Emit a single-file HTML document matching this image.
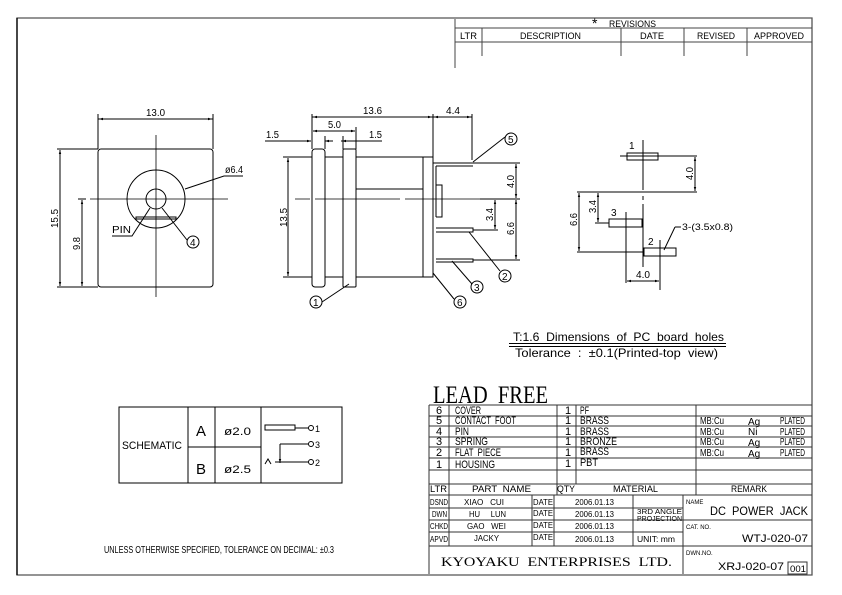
<!DOCTYPE html>
<html><head><meta charset="utf-8"><style>
html,body{margin:0;padding:0;background:#fff}
svg{display:block}
text{font-family:"Liberation Sans",sans-serif;fill:#000;white-space:pre}
</style></head><body>
<svg width="842" height="595" viewBox="0 0 842 595" xmlns="http://www.w3.org/2000/svg" xml:space="preserve">
<defs>
<marker id="a" viewBox="0 0 10 10" refX="10" refY="5" markerWidth="6" markerHeight="4" orient="auto-start-reverse"><path d="M0,2 L10,5 L0,8z" fill="#000"/></marker>
</defs>
<g fill="none" stroke="#000" stroke-width="1">
<path d="M17,18 H812 V575 H17 Z" stroke="#555" stroke-width="1.3"/>
<path d="M17,18 V575" stroke-width="1.3"/>

<path d="M455,19 V68 M455,28 H812 M455,42 H812 M482,28 V56 M621,28 V56 M684,28 V56 M747,28 V56" stroke="#444"/>

<rect x="98" y="149" width="115" height="138" rx="3"/>
<path d="M98,149 V114 M213,149 V114 M98,119 H213" />
<path d="M99,119 H212" marker-start="url(#a)" marker-end="url(#a)"/>
<path d="M156,135 V297" stroke-width="0.8"/>
<path d="M80,199 H86 M90,199 H228" stroke-width="0.8"/>
<circle cx="156" cy="199" r="29"/>
<circle cx="156" cy="199" r="10"/>
<path d="M136,219 V217 H176 V219 Z"/>
<path d="M57,149 H98 M57,287 H98 M78,199 H86"/>
<path d="M60,150 V286" marker-start="url(#a)" marker-end="url(#a)"/>
<path d="M82,200 V286" marker-start="url(#a)" marker-end="url(#a)"/>
<path d="M185,189 L224,176 H243"/>
<path d="M150,208 L132,236 H112"/>
<path d="M162,208 L187,240"/>
<circle cx="193" cy="242" r="6"/>

<path d="M312,114 V149 M433,114 V157 M472,114 V160 M356,127 V149 M312,117 H472"/>
<path d="M313,117 H432" marker-start="url(#a)" marker-end="url(#a)"/>
<path d="M434,117 H471" marker-start="url(#a)" marker-end="url(#a)"/>
<path d="M313,131 H355" marker-start="url(#a)" marker-end="url(#a)"/>
<path d="M265,141 H311" marker-end="url(#a)"/>
<path d="M325,141 L333,141" marker-start="url(#a)"/>
<path d="M341,141 H382" />
<path d="M343,141 L342,141" marker-end="url(#a)"/>
<path d="M325,136 V149 M343,136 V149"/>
<rect x="312" y="149" width="13" height="138" rx="3"/>
<rect x="343" y="149" width="13" height="138" rx="1"/>
<path d="M283,157 H312 M325,157 H343 M356,157 H433 V277 H356 M325,277 H343 M283,277 H312 M423,157 V277 M356,189 H423"/>
<path d="M288,158 V276" marker-start="url(#a)" marker-end="url(#a)"/>
<path d="M295,199 H310 M315,199 H400 M405,199 H517" stroke-width="0.8"/>
<path d="M433,163 H473 M436,166 H473 M436,166 V217 M436,185 H442 V217 H436"/>
<path d="M436,228 H473 V232 H436 M436,259 H473 V262 H436"/>
<path d="M473,163 H520 M480,199 H520 M473,230 H498 M473,260 H520"/>
<path d="M516,164 V198" marker-start="url(#a)" marker-end="url(#a)"/>
<path d="M495,200 V229" marker-start="url(#a)" marker-end="url(#a)"/>
<path d="M516,200 V259" marker-start="url(#a)" marker-end="url(#a)"/>
<path d="M473,162 L505,137"/><circle cx="511" cy="139" r="6"/>
<path d="M469,232 L500,271"/><circle cx="505" cy="276" r="6"/>
<path d="M452,261 L472,284"/><circle cx="477" cy="287" r="6"/>
<path d="M433,273 L454,299"/><circle cx="460" cy="302" r="6"/>
<path d="M349,284 L322,302"/><circle cx="316" cy="302" r="6"/>

<rect x="627" y="153" width="31" height="7"/>
<path d="M643,140 V190 M643,196 V200 M643,204 V267 M620,156 H697 M577,192 H697 M595,223 H609 M577,252 H644 M626,212 V283 M660,240 V290 M675,227 H681 M664,250 L675,227"/>
<rect x="609" y="219" width="33" height="8"/>
<rect x="644" y="248" width="32" height="8"/>
<path d="M695,157 V191" marker-start="url(#a)" marker-end="url(#a)"/>
<path d="M598,193 V222" marker-start="url(#a)" marker-end="url(#a)"/>
<path d="M579,193 V251" marker-start="url(#a)" marker-end="url(#a)"/>
<path d="M627,281 H659" marker-start="url(#a)" marker-end="url(#a)"/>
<path d="M509,343.5 H726 M509,346.5 H726"/>

<rect x="119" y="407" width="223" height="76"/>
<path d="M188,407 V483 M215,407 V483 M261,407 V483 M188,447 H261"/>
<rect x="265" y="425" width="30" height="5"/>
<path d="M295,428 H308 M280,444 H308 M280,444 V463 M275,462 H308 M265,464 L268,459 L271,464"/>
<path d="M280,456 V463" marker-end="url(#a)"/>
<circle cx="311" cy="428" r="2.5"/><circle cx="311" cy="444" r="2.5"/><circle cx="311" cy="462" r="2.5"/>

<g stroke="#333">
<path d="M429,405 H812 M429,416 H812 M429,426 H812 M429,437 H812 M429,447 H812 M429,458 H812 M429,470 H812 M429,484 H812 M429,495 H812"/>
<path d="M429,405 V574 M449,405 V546 M557,405 V495 M576,405 V484 M696,405 V495"/>
<path d="M429,508 H683 M429,520 H812 M429,532 H683 M429,546 H812 M532,495 V546 M554,495 V546 M633,495 V546 M683,495 V574"/>
<rect x="788" y="562" width="19" height="12"/>
</g>
</g>

<g font-size="10">
<text x="592" y="28" font-size="14">*</text>
<text x="609" y="27" font-size="9" textLength="47" lengthAdjust="spacingAndGlyphs">REVISIONS</text>
<text x="460" y="39" font-size="9" textLength="17" lengthAdjust="spacingAndGlyphs">LTR</text>
<text x="520" y="39" font-size="9" textLength="61" lengthAdjust="spacingAndGlyphs">DESCRIPTION</text>
<text x="640" y="39" font-size="9" textLength="24" lengthAdjust="spacingAndGlyphs">DATE</text>
<text x="697" y="39" font-size="9" textLength="38" lengthAdjust="spacingAndGlyphs">REVISED</text>
<text x="754" y="39" font-size="9" textLength="50" lengthAdjust="spacingAndGlyphs">APPROVED</text>

<text x="146" y="116" textLength="19" lengthAdjust="spacingAndGlyphs">13.0</text>
<text x="225" y="173" textLength="18" lengthAdjust="spacingAndGlyphs">ø6.4</text>
<text x="112" y="233" textLength="19" lengthAdjust="spacingAndGlyphs">PIN</text>
<text x="190" y="246" font-size="10">4</text>
<text transform="translate(58,228) rotate(-90)" textLength="19" lengthAdjust="spacingAndGlyphs">15.5</text>
<text transform="translate(80,250) rotate(-90)" textLength="13" lengthAdjust="spacingAndGlyphs">9.8</text>

<text x="363" y="114" textLength="19" lengthAdjust="spacingAndGlyphs">13.6</text>
<text x="446" y="114" textLength="14" lengthAdjust="spacingAndGlyphs">4.4</text>
<text x="328" y="128" textLength="13" lengthAdjust="spacingAndGlyphs">5.0</text>
<text x="266" y="138" textLength="13" lengthAdjust="spacingAndGlyphs">1.5</text>
<text x="369" y="138" textLength="13" lengthAdjust="spacingAndGlyphs">1.5</text>
<text transform="translate(287,227) rotate(-90)" textLength="19" lengthAdjust="spacingAndGlyphs">13.5</text>
<text transform="translate(514,188) rotate(-90)" textLength="13" lengthAdjust="spacingAndGlyphs">4.0</text>
<text transform="translate(493,221) rotate(-90)" textLength="13" lengthAdjust="spacingAndGlyphs">3.4</text>
<text transform="translate(514,235) rotate(-90)" textLength="13" lengthAdjust="spacingAndGlyphs">6.6</text>
<text x="508" y="143">5</text>
<text x="502" y="280">2</text>
<text x="474" y="291">3</text>
<text x="457" y="306">6</text>
<text x="313" y="306">1</text>

<text x="629" y="149">1</text>
<text x="611" y="216">3</text>
<text x="648" y="245">2</text>
<text transform="translate(693,180) rotate(-90)" textLength="13" lengthAdjust="spacingAndGlyphs">4.0</text>
<text transform="translate(596,213) rotate(-90)" textLength="13" lengthAdjust="spacingAndGlyphs">3.4</text>
<text transform="translate(577,226) rotate(-90)" textLength="13" lengthAdjust="spacingAndGlyphs">6.6</text>
<text x="636" y="278" textLength="14" lengthAdjust="spacingAndGlyphs">4.0</text>
<text x="682" y="230" font-size="9" textLength="51" lengthAdjust="spacingAndGlyphs">3-(3.5x0.8)</text>
<text x="513" y="341" font-size="12" textLength="211" lengthAdjust="spacingAndGlyphs">T:1.6  Dimensions  of  PC  board  holes</text>
<text x="515" y="357" font-size="12" textLength="203" lengthAdjust="spacingAndGlyphs">Tolerance  :  ±0.1(Printed-top  view)</text>

<text x="122" y="449" font-size="11" textLength="60" lengthAdjust="spacingAndGlyphs">SCHEMATIC</text>
<text x="196" y="436" font-size="15" textLength="10" lengthAdjust="spacingAndGlyphs">A</text>
<text x="196" y="474" font-size="15" textLength="10" lengthAdjust="spacingAndGlyphs">B</text>
<text x="224" y="435" font-size="11" textLength="27" lengthAdjust="spacingAndGlyphs">ø2.0</text>
<text x="224" y="473" font-size="11" textLength="27" lengthAdjust="spacingAndGlyphs">ø2.5</text>
<text x="315" y="432" font-size="9">1</text>
<text x="315" y="448" font-size="9">3</text>
<text x="315" y="466" font-size="9">2</text>

<text x="104" y="553" font-size="10" textLength="230" lengthAdjust="spacingAndGlyphs">UNLESS OTHERWISE SPECIFIED, TOLERANCE ON DECIMAL: ±0.3</text>

<text x="433" y="403" font-size="25" style="font-family:'Liberation Serif',serif" textLength="115" lengthAdjust="spacingAndGlyphs">LEAD  FREE</text>
<g font-size="11">
<text x="436" y="414">6</text><text x="455" y="414" textLength="26" lengthAdjust="spacingAndGlyphs">COVER</text><text x="565" y="414">1</text><text x="580" y="414" textLength="9" lengthAdjust="spacingAndGlyphs">PF</text>
<text x="436" y="424">5</text><text x="455" y="424" textLength="61" lengthAdjust="spacingAndGlyphs">CONTACT  FOOT</text><text x="565" y="424">1</text><text x="580" y="424" textLength="29" lengthAdjust="spacingAndGlyphs">BRASS</text>
<text x="436" y="435">4</text><text x="455" y="435" textLength="14" lengthAdjust="spacingAndGlyphs">PIN</text><text x="565" y="435">1</text><text x="580" y="435" textLength="29" lengthAdjust="spacingAndGlyphs">BRASS</text>
<text x="436" y="445">3</text><text x="455" y="445" textLength="33" lengthAdjust="spacingAndGlyphs">SPRING</text><text x="565" y="445">1</text><text x="580" y="445" textLength="37" lengthAdjust="spacingAndGlyphs">BRONZE</text>
<text x="436" y="456">2</text><text x="455" y="456" textLength="46" lengthAdjust="spacingAndGlyphs">FLAT  PIECE</text><text x="565" y="456">1</text><text x="580" y="455" textLength="29" lengthAdjust="spacingAndGlyphs">BRASS</text>
<text x="436" y="468">1</text><text x="455" y="468" textLength="40" lengthAdjust="spacingAndGlyphs">HOUSING</text><text x="565" y="467">1</text><text x="580" y="466" textLength="18" lengthAdjust="spacingAndGlyphs">PBT</text>
<g font-size="10">
<text x="700" y="424" textLength="24" lengthAdjust="spacingAndGlyphs">MB:Cu</text><text x="748" y="425">Ag</text><text x="780" y="424" textLength="25" lengthAdjust="spacingAndGlyphs">PLATED</text>
<text x="700" y="435" textLength="24" lengthAdjust="spacingAndGlyphs">MB:Cu</text><text x="748" y="435">Ni</text><text x="780" y="435" textLength="25" lengthAdjust="spacingAndGlyphs">PLATED</text>
<text x="700" y="445" textLength="24" lengthAdjust="spacingAndGlyphs">MB:Cu</text><text x="748" y="446">Ag</text><text x="780" y="445" textLength="25" lengthAdjust="spacingAndGlyphs">PLATED</text>
<text x="700" y="456" textLength="24" lengthAdjust="spacingAndGlyphs">MB:Cu</text><text x="748" y="457">Ag</text><text x="780" y="456" textLength="25" lengthAdjust="spacingAndGlyphs">PLATED</text>
</g>
<text x="430" y="492" font-size="9" textLength="17" lengthAdjust="spacingAndGlyphs">LTR</text>
<text x="472" y="492" font-size="9" textLength="59" lengthAdjust="spacingAndGlyphs">PART  NAME</text>
<text x="557" y="492" font-size="9" textLength="18" lengthAdjust="spacingAndGlyphs">QTY</text>
<text x="613" y="492" font-size="9" textLength="45" lengthAdjust="spacingAndGlyphs">MATERIAL</text>
<text x="731" y="492" font-size="9" textLength="36" lengthAdjust="spacingAndGlyphs">REMARK</text>
<g font-size="8">
<text x="430" y="505" textLength="18" lengthAdjust="spacingAndGlyphs">DSND</text><text x="464" y="505" textLength="40" lengthAdjust="spacingAndGlyphs">XIAO   CUI</text><text x="533" y="505" textLength="20" lengthAdjust="spacingAndGlyphs">DATE</text><text x="575" y="505" textLength="39" lengthAdjust="spacingAndGlyphs">2006.01.13</text>
<text x="432" y="517" textLength="15" lengthAdjust="spacingAndGlyphs">DWN</text><text x="469" y="517" textLength="37" lengthAdjust="spacingAndGlyphs">HU     LUN</text><text x="533" y="516" textLength="20" lengthAdjust="spacingAndGlyphs">DATE</text><text x="575" y="517" textLength="39" lengthAdjust="spacingAndGlyphs">2006.01.13</text>
<text x="430" y="529" textLength="18" lengthAdjust="spacingAndGlyphs">CHKD</text><text x="467" y="529" textLength="39" lengthAdjust="spacingAndGlyphs">GAO   WEI</text><text x="533" y="528" textLength="20" lengthAdjust="spacingAndGlyphs">DATE</text><text x="575" y="529" textLength="39" lengthAdjust="spacingAndGlyphs">2006.01.13</text>
<text x="430" y="542" textLength="18" lengthAdjust="spacingAndGlyphs">APVD</text><text x="474" y="541" textLength="25" lengthAdjust="spacingAndGlyphs">JACKY</text><text x="533" y="540" textLength="20" lengthAdjust="spacingAndGlyphs">DATE</text><text x="575" y="542" textLength="39" lengthAdjust="spacingAndGlyphs">2006.01.13</text>
<text x="637" y="514" font-size="7" textLength="45" lengthAdjust="spacingAndGlyphs">3RD ANGLE</text>
<text x="637" y="521" font-size="7" textLength="45" lengthAdjust="spacingAndGlyphs">PROJECTION</text>
<text x="637" y="542" textLength="38" lengthAdjust="spacingAndGlyphs">UNIT: mm</text>
<text x="686" y="504" font-size="6">NAME</text>
<text x="686" y="529" font-size="6">CAT. NO.</text>
<text x="686" y="555" font-size="6">DWN.NO.</text>
</g>
<text x="710" y="515" font-size="12" textLength="98" lengthAdjust="spacingAndGlyphs">DC  POWER  JACK</text>
<text x="742" y="542" font-size="11" textLength="66" lengthAdjust="spacingAndGlyphs">WTJ-020-07</text>
<text x="718" y="570" font-size="11" textLength="66" lengthAdjust="spacingAndGlyphs">XRJ-020-07</text>
<text x="790" y="572" font-size="9" textLength="16" lengthAdjust="spacingAndGlyphs">001</text>
<text x="441" y="566" font-size="13" style="font-family:'Liberation Serif',serif" textLength="231" lengthAdjust="spacingAndGlyphs">KYOYAKU  ENTERPRISES  LTD.</text>
</g>
</g>
</svg>
</body></html>
